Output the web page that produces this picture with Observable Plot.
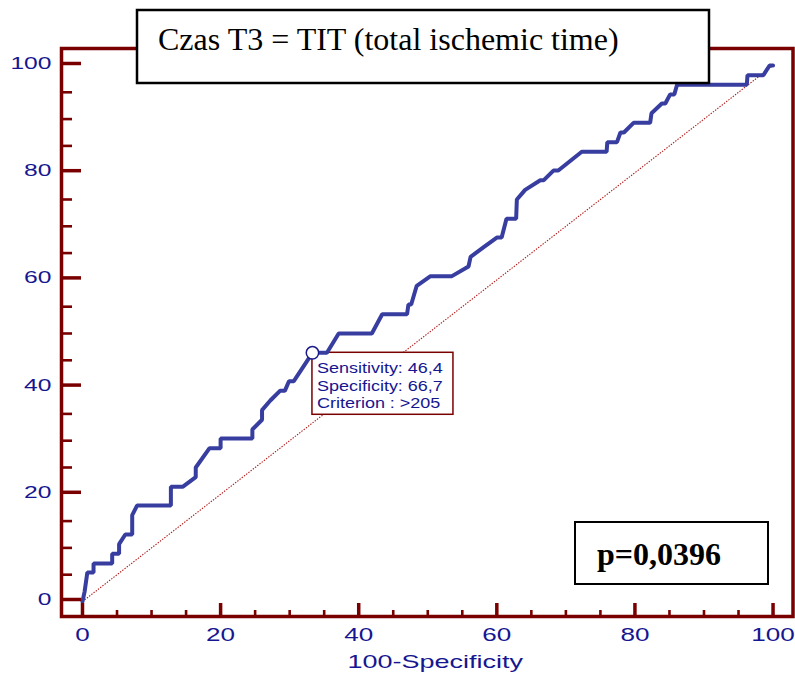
<!DOCTYPE html>
<html>
<head>
<meta charset="utf-8">
<script src="https://cdn.jsdelivr.net/npm/d3@7"></script>
<script src="https://cdn.jsdelivr.net/npm/@observablehq/plot@0.6"></script>
<style>
  body { margin: 0; background: #fff; }
  #chart svg { display: block; }
</style>
</head>
<body>
<div id="chart"></div>
<script>
// ROC curve vertices: x = 100 - Specificity (%), y = Sensitivity (%)
const fpr = [0, 0.3, 0.7, 1.6, 1.6, 4.3, 4.3, 5.3, 5.3, 6.2, 7.2, 7.2, 7.9, 12.8, 12.8, 14.5, 16.4, 16.4, 18.4, 20.0,
  20.0, 24.6, 24.6, 26.0, 26.0, 27.2, 28.6, 29.3, 29.9, 30.6, 33.3, 35.4, 37.1, 41.9, 43.4, 47.0, 47.2, 47.6, 48.4, 50.4,
  53.5, 55.9, 56.2, 58.1, 60.0, 60.7, 61.4, 62.8, 62.9, 64.1, 66.3, 66.8, 68.2, 68.9, 72.3, 75.9, 76.0, 77.4, 77.9, 78.4,
  79.8, 82.2, 82.4, 83.9, 84.4, 85.1, 85.7, 86.1, 96.2, 96.3, 98.6, 99.5, 100];
const sens = [0, 1.8, 5.4, 5.4, 7.1, 7.1, 8.9, 8.9, 10.7, 12.5, 12.5, 16.1, 17.9, 17.9, 21.4, 21.4, 23.2, 25.0, 28.6, 28.6,
  30.4, 30.4, 32.1, 33.9, 35.7, 37.5, 39.3, 39.3, 41.1, 41.1, 46.4, 46.4, 50.0, 50.0, 53.6, 53.6, 55.4, 55.4, 58.9, 60.7,
  60.7, 62.5, 64.3, 66.1, 67.9, 67.9, 71.4, 71.4, 75.0, 76.8, 78.6, 78.6, 80.4, 80.4, 83.9, 83.9, 85.7, 85.7, 87.5, 87.5,
  89.3, 89.3, 91.1, 92.9, 92.9, 94.6, 94.6, 96.4, 96.4, 98.2, 98.2, 100, 100];

// Optimal cut-off annotation
const critSens = 46.4;
const critSpec = 66.7;
const critValue = ">205";

// Texts and ticks
const titleText = "Czas T3 = TIT (total ischemic time)";
const pText = "p=0,0396";
const xAxisLabel = "100-Specificity";
const majorTicks = [0, 20, 40, 60, 80, 100];
const minorTicks = [5, 10, 15, 25, 30, 35, 45, 50, 55, 65, 70, 75, 85, 90, 95];

const roc = fpr.map((x, i) => ({x, y: sens[i]}));
const chance = [{x1: 0, y1: 0, x2: 100, y2: 100}];
const crit = [{x: 100 - critSpec, y: critSens}];

const AXIS = "#7a0000";
const LABEL = "#161690";
const CURVE = "#383ea0";
const SANS = "'Liberation Sans', Arial, sans-serif";
const SERIF = "'Liberation Serif', 'Times New Roman', serif";

const chart = Plot.plot({
  width: 795,
  height: 674,
  marginLeft: 61,
  marginRight: 2.5,
  marginTop: 48,
  marginBottom: 58,
  style: {background: "white", fontFamily: SANS},
  x: {domain: [-3.04, 102.89]},
  y: {domain: [-2.8, 103.17]},
  marks: [
    Plot.link(chance, {x1: "x1", y1: "y1", x2: "x2", y2: "y2", stroke: "#b01818", strokeWidth: 1.1, strokeDasharray: "1.4 1.4"}),
    Plot.line(roc, {x: "x", y: "y", stroke: CURVE, strokeWidth: 4, strokeLinejoin: "miter"}),
    Plot.dot(crit, {x: "x", y: "y", r: 6.2, stroke: "#1a1a8c", strokeWidth: 1.5, fill: "white"}),
    Plot.axisY({ticks: minorTicks, tickSize: -11, tickFormat: () => "", stroke: AXIS, strokeWidth: 2.6, label: null}),
    Plot.axisY({ticks: majorTicks, tickSize: -20, tickPadding: 30, stroke: AXIS, strokeWidth: 3.5, fill: LABEL,
      fontSize: 17, dy: -2, label: null}),
    Plot.axisX({ticks: minorTicks, tickSize: -6, tickFormat: () => "", stroke: AXIS, strokeWidth: 2.6, label: null}),
    Plot.axisX({ticks: majorTicks, tickSize: -13, tickPadding: 25, stroke: AXIS, strokeWidth: 3.5, fill: LABEL,
      fontSize: 18, label: null}),
    Plot.frame({stroke: AXIS, strokeWidth: 3.5})
  ]
});

document.getElementById("chart").appendChild(chart);

// widen sans-serif labels horizontally, keeping the given side of each label fixed
function stretch(sel, s, side) {
  sel.each(function () {
    const b = this.getBBox();
    const ox = side === "right" ? b.x + b.width : side === "left" ? b.x : b.x + b.width / 2;
    const oy = b.y + b.height / 2;
    const tr = this.getAttribute("transform") || "";
    this.setAttribute("transform", `${tr} translate(${ox},${oy}) scale(${s},1) translate(${-ox},${-oy})`);
  });
}

const svg = d3.select(chart);
stretch(svg.selectAll('g[aria-label="y-axis tick label"] text'), 1.45, "right");
stretch(svg.selectAll('g[aria-label="x-axis tick label"] text'), 1.45, "center");

const sx = chart.scale("x"), sy = chart.scale("y");

// criterion callout box (behind the curve, above the chance line)
const px = sx.apply(crit[0].x), py = sy.apply(crit[0].y);
svg.insert("rect", 'g[aria-label="line"]')
  .attr("x", px).attr("y", py).attr("width", 141).attr("height", 62)
  .attr("fill", "white").attr("stroke", AXIS).attr("stroke-width", 1.5);
const callout = svg.append("g").attr("font-family", SANS).attr("text-anchor", "start")
  .attr("font-size", 15).attr("fill", LABEL);
[`Sensitivity: ${String(critSens).replace(".", ",")}`,
 `Specificity: ${String(critSpec).replace(".", ",")}`,
 `Criterion : ${critValue}`].forEach((s, i) => {
  callout.append("text").attr("x", px + 5).attr("y", py + 21 + i * 17.5).text(s);
});
stretch(callout.selectAll("text"), 1.2, "left");

// x-axis title
const xl = svg.append("text")
  .attr("x", sx.apply(50) + 8).attr("y", 668)
  .attr("text-anchor", "middle")
  .attr("font-family", SANS)
  .attr("font-size", 18).attr("fill", LABEL)
  .text(xAxisLabel);
stretch(xl, 1.5, "center");

// chart title box
svg.append("rect").attr("x", 137).attr("y", 10).attr("width", 572).attr("height", 73)
  .attr("fill", "white").attr("stroke", "black").attr("stroke-width", 2.5);
svg.append("text").attr("x", 158).attr("y", 50).attr("text-anchor", "start")
  .attr("font-family", SERIF)
  .attr("font-size", 32).attr("fill", "black").text(titleText);

// p-value box
svg.append("rect").attr("x", 575).attr("y", 522).attr("width", 193).attr("height", 62)
  .attr("fill", "white").attr("stroke", "black").attr("stroke-width", 2);
svg.append("text").attr("x", 597).attr("y", 565).attr("text-anchor", "start")
  .attr("font-family", SERIF)
  .attr("font-weight", "bold").attr("font-size", 32).attr("fill", "black").text(pText);
</script>
</body>
</html>
